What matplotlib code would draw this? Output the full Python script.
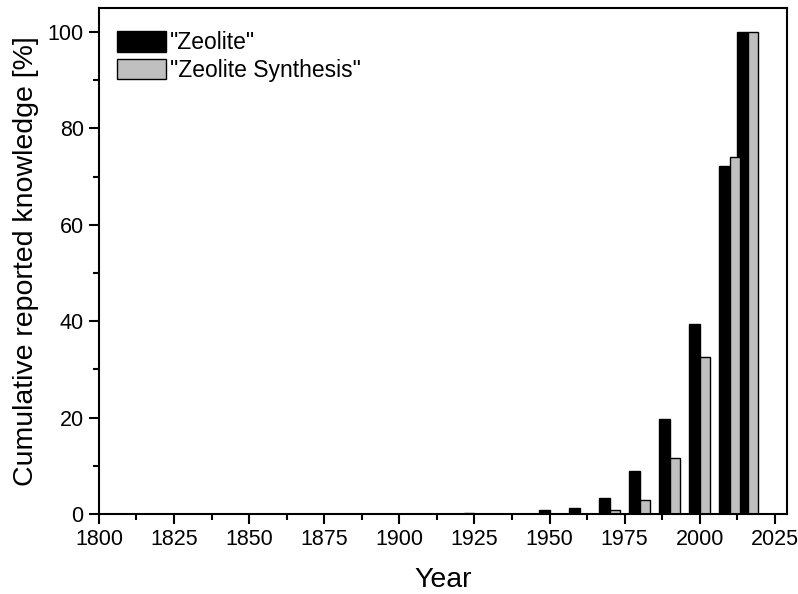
import numpy as np
import matplotlib.pyplot as plt
from matplotlib.ticker import MultipleLocator

plt.rcParams['font.family'] = ['Liberation Sans', 'DejaVu Sans']

# group positions (year) and cumulative values [%]
years = [1925, 1950, 1960, 1970, 1980, 1990, 2000, 2010, 2016]
zeolite = [0.3, 0.9, 1.3, 3.3, 8.9, 19.7, 39.5, 72.2, 100]
zeolite_synthesis = [0.0, 0.0, 0.0, 0.9, 2.9, 11.6, 32.5, 74.0, 100]

width = 3.5
x = np.array(years, dtype=float)

fig = plt.figure(figsize=(7.98, 5.94), dpi=100)
ax = fig.add_axes([0.124, 0.1347, 0.862, 0.852])

ax.bar(x - width / 2, zeolite, width, color='black', edgecolor='black',
       linewidth=1, label='"Zeolite"')
ax.bar(x + width / 2, zeolite_synthesis, width, color='#c0c0c0', edgecolor='black',
       linewidth=1, label='"Zeolite Synthesis"')

ax.set_xlim(1800, 2029)
ax.set_ylim(0, 105)
ax.xaxis.set_major_locator(MultipleLocator(25))
ax.xaxis.set_minor_locator(MultipleLocator(12.5))
ax.yaxis.set_major_locator(MultipleLocator(20))
ax.yaxis.set_minor_locator(MultipleLocator(10))
ax.tick_params(which='major', direction='out', length=7, width=1.5,
               labelsize=15.5, pad=4)
ax.tick_params(which='minor', direction='out', length=4.5, width=1.5)
for s in ax.spines.values():
    s.set_linewidth(1.5)

ax.set_xlabel('Year', fontsize=20.5, labelpad=12)
ax.set_ylabel('Cumulative reported knowledge [%]', fontsize=20.5, labelpad=6)

ax.legend(loc='upper left', bbox_to_anchor=(0.013, 0.972), frameon=False,
          fontsize=16.5, handlelength=2.14, handleheight=1.0,
          handletextpad=0.15, labelspacing=0.2, borderaxespad=0,
          borderpad=0.4)

fig.savefig('out.png', dpi=100)
